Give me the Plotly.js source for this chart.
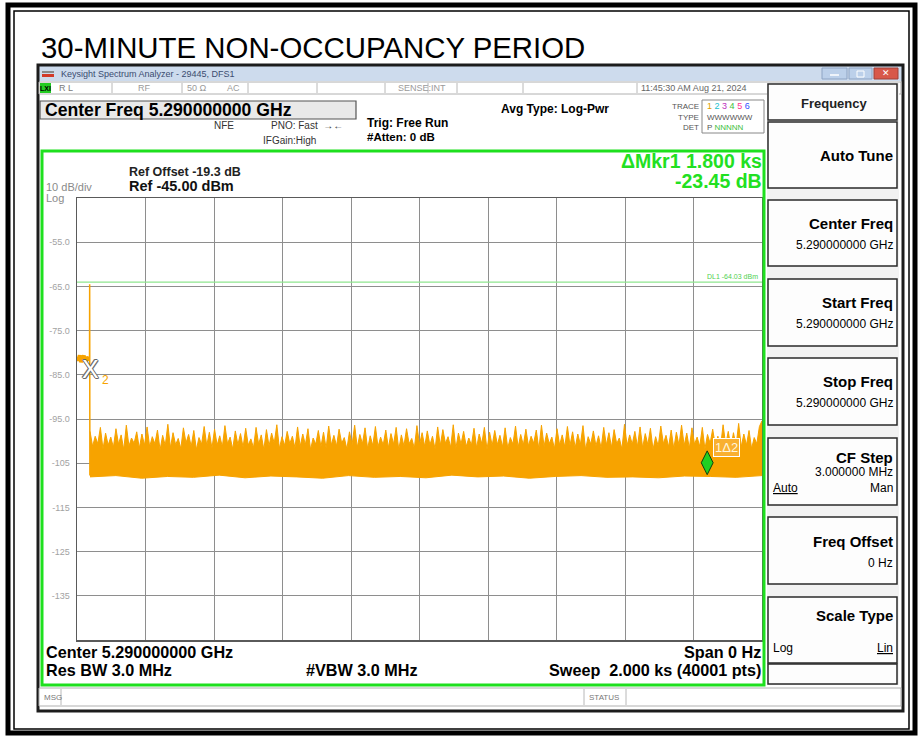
<!DOCTYPE html>
<html><head><meta charset="utf-8">
<script src="https://cdn.plot.ly/plotly-3.0.1.min.js"></script>
<style>html,body{margin:0;padding:0;background:#fff;}#chart{width:923px;height:736px;}</style>
</head><body><div id="chart"></div>
<script>
// ---------------- data ----------------
const sweepStart = 0, sweepStop = 2000;            // seconds (span 0 Hz, sweep 2.000 ks)
const refLevel = -45, bottomLevel = -145;           // dBm, 10 dB/div
const preTime  = [0, 4, 8, 12, 16, 20, 24, 28, 32, 36];
const preLevel = [-80.9, -81.8, -80.6, -82.1, -81.2, -80.7, -81.9, -81.0, -81.5, -81.4];
const burstTime = [36.6, 37.0, 37.6];
const burstLevel = [-81.4, -64.5, -107.8];
const noiseStartTime = 38;
const noiseTop = [
 -97.8,-101.2,-98.9,-100.6,-96.9,-101.8,-98.2,-100.9,-99.1,-101.4,
 -97.2,-100.7,-98.6,-101.9,-96.4,-101.1,-99.3,-100.5,-97.9,-101.6,
 -98.4,-100.9,-96.8,-101.3,-99.0,-100.6,-97.5,-102.0,-98.7,-101.0,
 -96.2,-101.5,-98.1,-100.8,-99.4,-101.7,-97.0,-100.4,-98.5,-101.2,
 -97.6,-101.9,-99.2,-100.7,-96.7,-101.0,-98.0,-101.6,-97.3,-100.9,
 -98.8,-101.3,-96.5,-100.6,-99.1,-101.8,-97.7,-100.8,-98.3,-101.4,
 -97.1,-100.9,-99.5,-101.5,-96.9,-100.7,-98.6,-101.9,-97.4,-101.1,
 -98.2,-100.5,-96.3,-101.7,-99.0,-101.0,-97.8,-100.6,-98.9,-101.5,
 -96.8,-101.2,-98.4,-100.8,-97.2,-101.9,-99.3,-100.7,-97.6,-101.3,
 -98.0,-101.6,-96.6,-100.9,-98.7,-101.1,-97.3,-100.5,-99.2,-101.8,
 -97.9,-100.8,-96.4,-101.4,-98.5,-100.6,-97.0,-101.7,-98.8,-101.0,
 -96.7,-101.3,-99.1,-100.9,-97.5,-101.5,-98.3,-100.7,-96.9,-101.9,
 -98.6,-101.1,-97.2,-100.6,-99.4,-101.6,-96.5,-100.8,-98.1,-101.2,
 -97.7,-100.9,-98.9,-101.8,-96.8,-101.0,-97.4,-100.5,-99.0,-101.4,
 -96.3,-101.7,-98.2,-100.7,-97.8,-101.2,-99.3,-100.9,-97.1,-101.5,
 -98.4,-100.6,-96.9,-101.9,-98.0,-101.0,-97.6,-100.8,-98.7,-101.3,
 -97.0,-101.6,-99.2,-100.7,-96.6,-101.4,-98.5,-100.9,-97.3,-101.1,
 -98.9,-100.5,-97.5,-101.8,-96.4,-101.2,-98.2,-100.6,-99.1,-101.7,
 -97.2,-100.9,-98.6,-101.3,-96.7,-101.0,-97.9,-101.5,-98.4,-100.8,
 -96.5,-101.9,-99.0,-100.7,-97.7,-101.1,-98.8,-101.6,-96.9,-100.9,
 -98.1,-101.4,-97.4,-100.6,-99.3,-101.8,-96.2,-101.0,-98.6,-100.7,
 -97.8,-101.2,-96.8,-101.5,-98.3,-100.8,-97.1,-101.9,-99.0,-101.1,
 -96.6,-100.6,-98.7,-101.3,-97.5,-101.7,-98.0,-100.9,-96.4,-101.0,
 -98.2,-101.6,-97.0,-100.7,-99.1,-101.2,-96.9,-101.8,-98.5,-100.5,
 -97.3,-101.0,-98.9,-101.4,-96.3,-100.8,-97.8,-101.5,-98.1,-101.1,
 -96.0,-101.3,-98.4,-100.9,-97.6,-101.7,-99.2,-100.6,-96.7,-95.4
];
const noiseBottom = [
 -108.1,-107.8,-108.4,-108.0,-108.2,-107.7,-108.3,-107.9,-108.1,-108.4,
 -107.8,-108.2,-108.0,-108.3,-107.7,-108.1,-107.9,-108.4,-108.0,-107.8,
 -108.2,-108.1,-108.3,-107.9,-108.0,-108.2,-107.8
];
const displayLineLevel = -64.03;
const markerTime  = [1840, 40];          // marker 1 (delta), marker 2
const markerLevel = [-104.9, -81.45];
const yTickVals = [-55, -65, -75, -85, -95, -105, -115, -125, -135];
const yTickText = ['-55.0', '-65.0', '-75.0', '-85.0', '-95.0', '-105', '-115', '-125', '-135'];

// ---------------- helpers ----------------
const ORANGE = '#f7a300';
const FONT = 'Liberation Sans, Arial, sans-serif';
const L = 77, R = 762, T = 198, B = 640;
const px = x => (x - L) / (R - L);
const py = y => (B - y) / (B - T);
const shapes = [], ann = [];
function box(x0, y0, x1, y1, fill, line, lw) {
  shapes.push({type:'rect', xref:'paper', yref:'paper', x0:px(x0), x1:px(x1), y0:py(y1), y1:py(y0),
    fillcolor: fill || 'rgba(0,0,0,0)', line:{color: line || 'rgba(0,0,0,0)', width: lw || 0}, layer:'above'});
}
function seg(x0, y0, x1, y1, color, w) {
  shapes.push({type:'line', xref:'paper', yref:'paper', x0:px(x0), x1:px(x1), y0:py(y0), y1:py(y1),
    line:{color, width:w}, layer:'above'});
}
function txt(x, y, text, o) {
  o = o || {};
  ann.push({xref:'paper', yref:'paper', x:px(x), y:py(y), text, showarrow:false,
    xanchor:o.a || 'left', yanchor:'middle', borderpad:0,
    font:{size:o.s || 12, color:o.c || '#000', family:o.f || FONT}});
}

// ---------------- traces ----------------
const nTop = noiseTop.length, nBot = noiseBottom.length;
const topTime = noiseTop.map((_, i) => noiseStartTime + i * (sweepStop - noiseStartTime) / (nTop - 1));
const botTime = noiseBottom.map((_, i) => noiseStartTime + i * (sweepStop - noiseStartTime) / (nBot - 1));

const traces = [
  {x: preTime, y: preLevel, mode:'lines', line:{color:ORANGE, width:4}, hoverinfo:'skip'},
  {x: burstTime, y: burstLevel, mode:'lines', line:{color:ORANGE, width:1.5}, hoverinfo:'skip'},
  {x: botTime, y: noiseBottom, mode:'lines', line:{color:ORANGE, width:1}, hoverinfo:'skip'},
  {x: topTime, y: noiseTop, mode:'lines', fill:'tonexty', fillcolor:ORANGE, line:{color:ORANGE, width:1}, hoverinfo:'skip'},
  {x: [markerTime[0]], y: [markerLevel[0]], mode:'markers',
   marker:{symbol:'diamond-tall', size:17, color:'#22d022', line:{color:'#104010', width:1}}, hoverinfo:'skip'}
];

// display line
shapes.push({type:'line', xref:'paper', yref:'y', x0:0, x1:1, y0:displayLineLevel, y1:displayLineLevel,
  line:{color:'#8fe68f', width:1.2}, layer:'above'});
ann.push({xref:'paper', yref:'y', x:px(760), y:displayLineLevel, yshift:6, text:'DL1 -64.03 dBm', showarrow:false,
  xanchor:'right', yanchor:'middle', font:{size:7, color:'#4fd04f', family:FONT}});

// marker labels
ann.push({xref:'x', yref:'y', x:markerTime[1], y:markerLevel[1], text:'X', showarrow:false, xanchor:'center', yanchor:'top',
  yshift:6, font:{size:25, color:'#ffffff', family:FONT,
  shadow:'1px 0 0 #666, -1px 0 0 #666, 0 1px 0 #666, 0 -1px 0 #666, 1px 1px 0 #888, -1px -1px 0 #888'}});
ann.push({xref:'x', yref:'y', x:markerTime[1], y:markerLevel[1], text:'2', showarrow:false, xanchor:'left', yanchor:'top',
  xshift:9, yshift:-12, font:{size:12, color:ORANGE, family:FONT}});
ann.push({xref:'x', yref:'y', x:markerTime[0], y:markerLevel[0], text:'1Δ2', showarrow:false, xanchor:'left', yanchor:'bottom',
  xshift:6, yshift:6, bgcolor:'#f9b030', bordercolor:'#ffffff', borderwidth:1, borderpad:1,
  font:{size:13, color:'#fff6dc', family:FONT}});

// ---------------- page decoration ----------------
// outer frames
box(8, 5, 915, 733, null, '#000', 5);
box(14, 11, 909, 729, null, '#000', 1.5);
// title
txt(40, 47, '30-MINUTE NON-OCCUPANCY PERIOD', {s:29.4, c:'#000'});

// analyzer window
box(38, 66, 903, 81, '#cddbed', null, 0);
box(38, 65, 903, 711, null, '#1c1c1c', 3);
box(42, 71, 54, 73, '#8a8a8a', null, 0);
box(42, 74, 54, 77, '#d23a2a', null, 0);
txt(60, 74, 'Keysight Spectrum Analyzer - 29445, DFS1', {s:9, c:'#3b4c70'});
box(822, 68, 847, 79, '#bcd0ea', '#8ea4c4', 1);
box(849, 68, 872, 79, '#bcd0ea', '#8ea4c4', 1);
box(874, 68, 898, 79, '#d8584a', '#a04038', 1);
seg(830, 75, 839, 75, '#ffffff', 1.5);
box(857, 71, 864, 77, null, '#ffffff', 1);
txt(886, 73.5, '✕', {s:9, c:'#ffffff', a:'center'});

// status row
box(39, 82, 901, 94, '#ffffff', '#b0b0b0', 1);
box(40, 83, 51, 93, '#22cc22', null, 0);
txt(45.5, 88, '<b>LXI</b>', {s:7, c:'#000', a:'center'});
txt(58, 88, 'R L', {s:9, c:'#7a7a7a'});
txt(137, 88, 'RF', {s:9, c:'#9a9a9a'});
txt(186, 88, '50 Ω', {s:9, c:'#9a9a9a'});
txt(226, 88, 'AC', {s:9, c:'#9a9a9a'});
txt(397, 88, 'SENSE:INT', {s:9, c:'#9a9a9a'});
txt(640, 88, '11:45:30 AM Aug 21, 2024', {s:9, c:'#666'});
[112, 182, 248, 317, 385, 428, 457, 523, 637].forEach(x => seg(x, 83, x, 93, '#b8b8b8', 1));

// header
box(40, 101, 356, 119, '#e9e9e9', '#555', 1.2);
txt(44, 110, '<b>Center Freq 5.290000000 GHz</b>', {s:17.6});
txt(213, 126, 'NFE', {s:10, c:'#333'});
txt(270, 126, 'PNO: Fast  →←', {s:10, c:'#333'});
txt(262, 140, 'IFGain:High', {s:10, c:'#333'});
txt(366, 123, '<b>Trig: Free Run</b>', {s:12});
txt(366, 137, '<b>#Atten: 0 dB</b>', {s:11.5});
txt(500, 109, '<b>Avg Type: Log-Pwr</b>', {s:12});
txt(700, 106, 'TRACE', {s:8, c:'#555', a:'right'});
txt(700, 117, 'TYPE', {s:8, c:'#555', a:'right'});
txt(700, 128, 'DET', {s:8, c:'#555', a:'right'});
box(702, 100, 764, 133, null, '#888', 1);
txt(706, 106, '<span style="color:#e0a000">1</span> <span style="color:#20c0d0">2</span> <span style="color:#c030c0">3</span> <span style="color:#40c040">4</span> <span style="color:#ff3090">5</span> <span style="color:#3050ff">6</span>', {s:9});
txt(706, 117, 'WWWWWW', {s:8, c:'#555'});
txt(706, 128, 'P <span style="color:#40c040">NNNNN</span>', {s:8, c:'#555'});

// green display frame
box(42, 151, 764, 685, null, '#1ee01e', 3);
txt(763, 161, '<b>ΔMkr1 1.800 ks</b>', {s:19.5, c:'#22e022', a:'right'});
txt(763, 181, '<b>-23.45 dB</b>', {s:19.5, c:'#22e022', a:'right'});
txt(128, 172, '<b>Ref Offset -19.3 dB</b>', {s:12.5, c:'#222'});
txt(128, 186, '<b>Ref -45.00 dBm</b>', {s:14.5, c:'#111'});
txt(45, 187, '10 dB/div', {s:11, c:'#8a8a8a'});
txt(45, 198, 'Log', {s:11, c:'#8a8a8a'});

// bottom annotation
txt(45, 652, '<b>Center 5.290000000 GHz</b>', {s:16.2});
txt(45, 670, '<b>Res BW 3.0 MHz</b>', {s:16.2});
txt(305, 670, '<b>#VBW 3.0 MHz</b>', {s:16.2});
txt(762, 652, '<b>Span 0 Hz</b>', {s:16.2, a:'right'});
txt(762, 670, '<b>Sweep  2.000 ks (40001 pts)</b>', {s:16.2, a:'right'});

// message bar
box(39, 688, 901, 706, '#ffffff', '#b0b0b0', 1);
seg(61, 689, 61, 705, '#b8b8b8', 1);
seg(584, 689, 584, 705, '#b8b8b8', 1);
seg(626, 689, 626, 705, '#b8b8b8', 1);
txt(43, 697, 'MSG', {s:8, c:'#777'});
txt(588, 697, 'STATUS', {s:8, c:'#777'});

// soft-key panel
box(767, 83, 899, 685, '#f2f2f2', null, 0);
function key(y0, y1) { box(768, y0, 897, y1, '#fdfdfd', '#2a2a2a', 1.5); }
key(84, 120); txt(834, 103, '<b>Frequency</b>', {s:13, c:'#222', a:'center'});
key(122, 188); txt(894, 156, '<b>Auto Tune</b>', {s:15, a:'right'});
key(200, 266); txt(894, 223, '<b>Center Freq</b>', {s:15, a:'right'}); txt(894, 245, '5.290000000 GHz', {s:12, a:'right'});
key(279, 346); txt(894, 302, '<b>Start Freq</b>', {s:15, a:'right'}); txt(894, 324, '5.290000000 GHz', {s:12, a:'right'});
key(358, 425); txt(894, 381, '<b>Stop Freq</b>', {s:15, a:'right'}); txt(894, 403, '5.290000000 GHz', {s:12, a:'right'});
key(438, 505); txt(894, 457, '<b>CF Step</b>', {s:15, a:'right'}); txt(894, 472, '3.000000 MHz', {s:12, a:'right'});
txt(772, 488, '<u>Auto</u>', {s:12}); txt(894, 488, 'Man', {s:12, a:'right'});
key(517, 584); txt(894, 541, '<b>Freq Offset</b>', {s:15, a:'right'}); txt(894, 563, '0 Hz', {s:12, a:'right'});
key(597, 663); txt(894, 615, '<b>Scale Type</b>', {s:15, a:'right'});
txt(772, 648, 'Log', {s:12}); txt(894, 648, '<u>Lin</u>', {s:12, a:'right'});
key(664, 684);

const layout = {
  width: 923, height: 736,
  margin: {l: L, r: 923 - R, t: T, b: 736 - B, pad: 0},
  paper_bgcolor: '#ffffff', plot_bgcolor: '#ffffff',
  showlegend: false,
  font: {family: FONT},
  xaxis: {range: [sweepStart, sweepStop], dtick: 200, tick0: 0, showgrid: true, gridcolor: '#8e8e8e', gridwidth: 1,
    showticklabels: false, ticks: '', zeroline: false, showline: true, mirror: true, linecolor: '#5a5a5a', linewidth: 1.5, fixedrange: true},
  yaxis: {range: [bottomLevel, refLevel], tickvals: yTickVals, ticktext: yTickText, showgrid: true, gridcolor: '#8e8e8e', gridwidth: 1,
    ticks: '', ticklabelstandoff: 4, tickfont: {size: 9, color: '#a2a2a2', family: FONT}, zeroline: false,
    showline: true, mirror: true, linecolor: '#5a5a5a', linewidth: 1.5, fixedrange: true},
  shapes, annotations: ann
};
Plotly.newPlot('chart', traces, layout, {staticPlot: true, displayModeBar: false});
</script></body></html>
